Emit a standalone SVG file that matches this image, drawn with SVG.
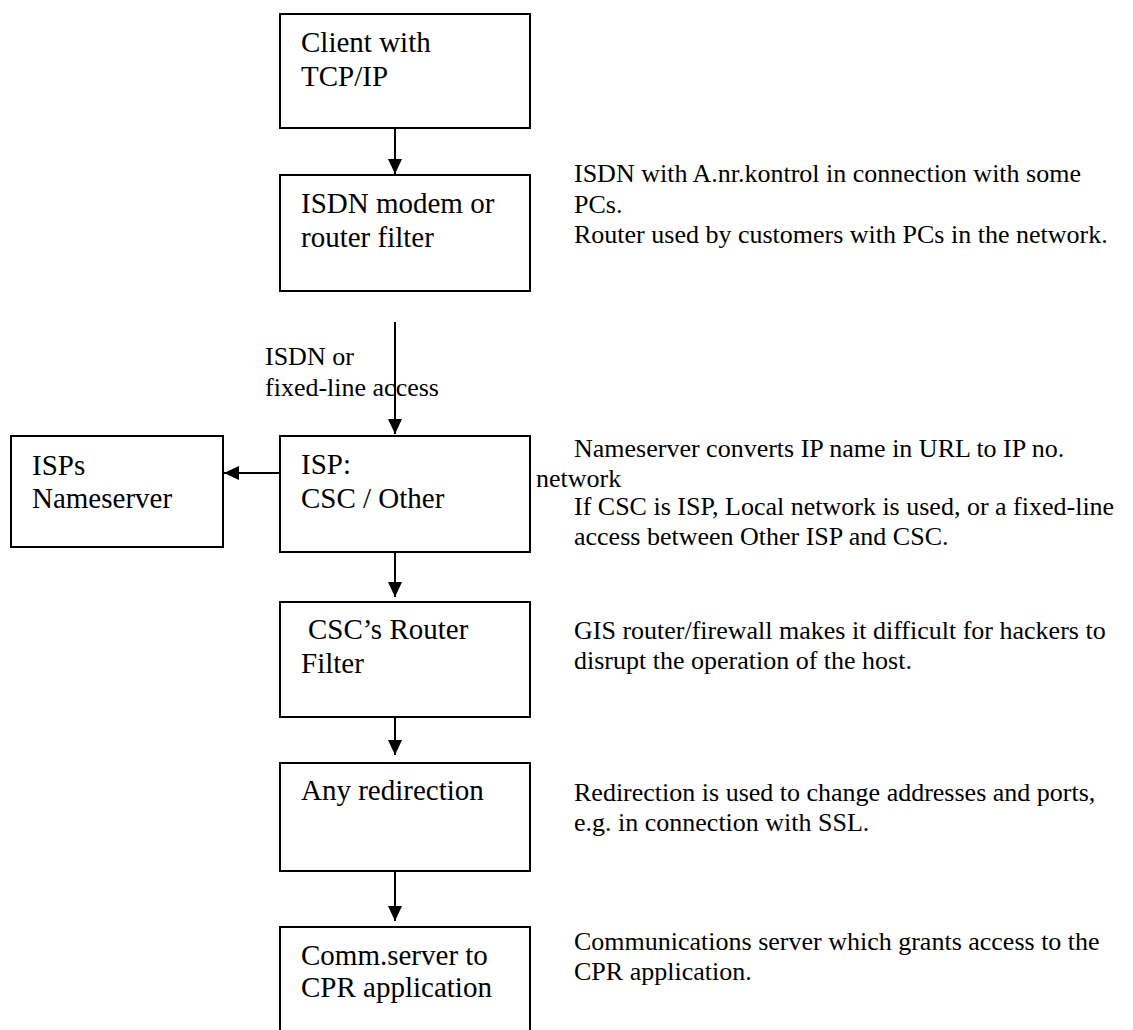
<svg xmlns="http://www.w3.org/2000/svg" width="1133" height="1030" viewBox="0 0 1133 1030">
<style>
.box{fill:#fff;stroke:#000;stroke-width:2}
.bt{font-family:"Liberation Serif","Times New Roman",serif;font-size:29px;fill:#000}
.nt{font-family:"Liberation Serif","Times New Roman",serif;font-size:26px;fill:#000}
.conn{stroke:#000;stroke-width:2;fill:none}
</style>
<defs>
<marker id="ah" markerUnits="userSpaceOnUse" markerWidth="15" markerHeight="14" refX="15" refY="7" orient="auto">
<path d="M0,0 L15,7 L0,14 z" fill="#000"/>
</marker>
</defs>
<rect width="1133" height="1030" fill="#fff"/>
<g id="connectors">
<line class="conn" x1="395" y1="128" x2="395" y2="174" marker-end="url(#ah)"/>
<line class="conn" x1="395" y1="322" x2="395" y2="434" marker-end="url(#ah)"/>
<line class="conn" x1="280" y1="473" x2="224" y2="473" marker-end="url(#ah)"/>
<line class="conn" x1="395" y1="552" x2="395" y2="597" marker-end="url(#ah)"/>
<line class="conn" x1="395" y1="717" x2="395" y2="755" marker-end="url(#ah)"/>
<line class="conn" x1="395" y1="868" x2="395" y2="921" marker-end="url(#ah)"/>
<text class="nt" x="265" y="365">ISDN or</text>
<text class="nt" x="265" y="396">fixed-line access</text>
</g>
<g id="client">
<rect class="box" x="280" y="14" width="250" height="114"/>
<text class="bt" x="301" y="52">Client with</text>
<text class="bt" x="301" y="86">TCP/IP</text>
</g>
<g id="isdn-modem">
<rect class="box" x="280" y="175" width="250" height="116"/>
<text class="bt" x="301" y="213">ISDN modem or</text>
<text class="bt" x="301" y="247">router filter</text>
</g>
<g id="isp">
<rect class="box" x="280" y="436" width="250" height="116"/>
<text class="bt" x="301" y="474">ISP:</text>
<text class="bt" x="301" y="508">CSC / Other</text>
</g>
<g id="nameserver">
<rect class="box" x="11" y="436" width="212" height="111"/>
<text class="bt" x="32" y="475">ISPs</text>
<text class="bt" x="32" y="508">Nameserver</text>
</g>
<g id="csc-router">
<rect class="box" x="280" y="602" width="250" height="115"/>
<text class="bt" x="308" y="639">CSC’s Router</text>
<text class="bt" x="301" y="673">Filter</text>
</g>
<g id="redirection">
<rect class="box" x="280" y="763" width="250" height="108"/>
<text class="bt" x="301" y="800">Any redirection</text>
</g>
<g id="comm-server">
<rect class="box" x="280" y="927" width="250" height="160"/>
<text class="bt" x="301" y="965">Comm.server to</text>
<text class="bt" x="301" y="997">CPR application</text>
</g>
<g id="notes">
<text class="nt" x="574" y="182">ISDN with A.nr.kontrol in connection with some</text>
<text class="nt" x="574" y="213">PCs.</text>
<text class="nt" x="574" y="243">Router used by customers with PCs in the network.</text>
<text class="nt" x="574" y="457">Nameserver converts IP name in URL to IP no.</text>
<text class="nt" x="536" y="487">network</text>
<text class="nt" x="574" y="515">If CSC is ISP, Local network is used, or a fixed-line</text>
<text class="nt" x="574" y="545">access between Other ISP and CSC.</text>
<text class="nt" x="574" y="639">GIS router/firewall makes it difficult for hackers to</text>
<text class="nt" x="574" y="669">disrupt the operation of the host.</text>
<text class="nt" x="574" y="801">Redirection is used to change addresses and ports,</text>
<text class="nt" x="574" y="831">e.g. in connection with SSL.</text>
<text class="nt" x="574" y="950">Communications server which grants access to the</text>
<text class="nt" x="574" y="980">CPR application.</text>
</g>
</svg>
